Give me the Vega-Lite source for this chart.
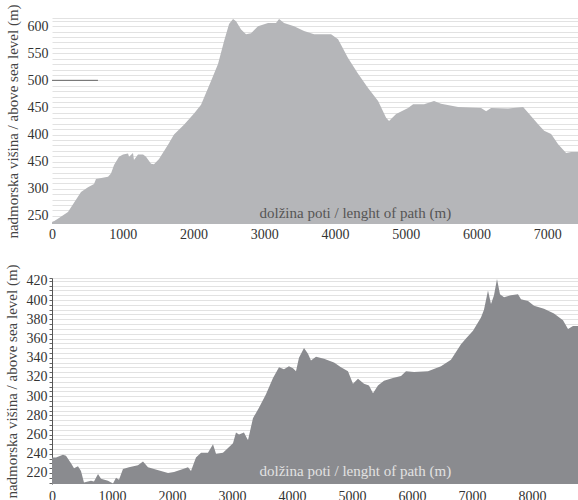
{
  "$schema": "https://vega.github.io/schema/vega-lite/v6.json",
  "background": "white",
  "padding": {"left": 3, "top": 3, "right": 0, "bottom": 0},
  "spacing": 54,
  "bounds": "flush",
  "config": {
    "font": "Liberation Serif, DejaVu Serif, serif",
    "view": {"stroke": null},
    "axis": {
      "labelFont": "Liberation Serif, DejaVu Serif, serif",
      "titleFont": "Liberation Serif, DejaVu Serif, serif",
      "labelFontSize": 14,
      "titleFontSize": 15,
      "titleFontWeight": "normal",
      "labelColor": "#333333",
      "titleColor": "#444444",
      "labelOverlap": false,
      "labelFlush": false,
      "gridColor": "#dadada",
      "gridWidth": 0.8
    }
  },
  "datasets": {
    "top": [
      {"d":0,"e":238},{"d":28,"e":240},{"d":99,"e":246},{"d":226,"e":257},{"d":410,"e":294},{"d":509,"e":303},{"d":594,"e":309},{"d":622,"e":318},{"d":792,"e":322},{"d":834,"e":328},{"d":877,"e":344},{"d":947,"e":359},{"d":1004,"e":363},{"d":1075,"e":365},{"d":1089,"e":359},{"d":1145,"e":366},{"d":1159,"e":353},{"d":1216,"e":363},{"d":1287,"e":363},{"d":1329,"e":359},{"d":1400,"e":346},{"d":1442,"e":345},{"d":1513,"e":355},{"d":1640,"e":381},{"d":1725,"e":400},{"d":1866,"e":418},{"d":2008,"e":439},{"d":2107,"e":455},{"d":2248,"e":499},{"d":2347,"e":530},{"d":2432,"e":572},{"d":2503,"e":604},{"d":2559,"e":613},{"d":2602,"e":609},{"d":2673,"e":594},{"d":2743,"e":585},{"d":2814,"e":587},{"d":2913,"e":600},{"d":3054,"e":606},{"d":3167,"e":606},{"d":3210,"e":613},{"d":3280,"e":606},{"d":3422,"e":600},{"d":3563,"e":591},{"d":3705,"e":585},{"d":3945,"e":585},{"d":4044,"e":576},{"d":4185,"e":541},{"d":4327,"e":512},{"d":4468,"e":486},{"d":4610,"e":462},{"d":4723,"e":431},{"d":4765,"e":425},{"d":4864,"e":438},{"d":5034,"e":449},{"d":5105,"e":456},{"d":5260,"e":456},{"d":5401,"e":462},{"d":5500,"e":457},{"d":5741,"e":451},{"d":6066,"e":449},{"d":6137,"e":443},{"d":6207,"e":449},{"d":6448,"e":448},{"d":6660,"e":451},{"d":6731,"e":440},{"d":6872,"e":419},{"d":6957,"e":407},{"d":7056,"e":401},{"d":7155,"e":382},{"d":7268,"e":366},{"d":7339,"e":368},{"d":7452,"e":368}
    ],
    "bottom": [
      {"d":0,"e":236},{"d":67,"e":236},{"d":183,"e":239},{"d":233,"e":238},{"d":317,"e":230},{"d":367,"e":225},{"d":433,"e":227},{"d":483,"e":222},{"d":533,"e":210},{"d":600,"e":211},{"d":650,"e":212},{"d":700,"e":211},{"d":767,"e":219},{"d":817,"e":214},{"d":933,"e":212},{"d":1017,"e":209},{"d":1067,"e":215},{"d":1117,"e":213},{"d":1183,"e":224},{"d":1283,"e":226},{"d":1433,"e":228},{"d":1517,"e":232},{"d":1600,"e":226},{"d":1700,"e":224},{"d":1817,"e":222},{"d":1934,"e":220},{"d":2034,"e":221},{"d":2184,"e":224},{"d":2267,"e":226},{"d":2317,"e":222},{"d":2400,"e":236},{"d":2484,"e":241},{"d":2600,"e":241},{"d":2684,"e":250},{"d":2734,"e":240},{"d":2850,"e":241},{"d":2934,"e":246},{"d":3017,"e":251},{"d":3067,"e":262},{"d":3117,"e":260},{"d":3200,"e":262},{"d":3267,"e":254},{"d":3350,"e":277},{"d":3450,"e":288},{"d":3567,"e":302},{"d":3684,"e":319},{"d":3784,"e":330},{"d":3867,"e":328},{"d":3950,"e":331},{"d":4017,"e":329},{"d":4067,"e":326},{"d":4117,"e":340},{"d":4201,"e":350},{"d":4267,"e":344},{"d":4317,"e":337},{"d":4401,"e":341},{"d":4534,"e":339},{"d":4701,"e":335},{"d":4817,"e":330},{"d":4934,"e":326},{"d":5017,"e":313},{"d":5101,"e":318},{"d":5201,"e":313},{"d":5284,"e":311},{"d":5351,"e":303},{"d":5434,"e":311},{"d":5534,"e":316},{"d":5684,"e":319},{"d":5818,"e":321},{"d":5901,"e":326},{"d":6035,"e":325},{"d":6268,"e":326},{"d":6485,"e":331},{"d":6651,"e":338},{"d":6818,"e":354},{"d":6901,"e":360},{"d":7018,"e":368},{"d":7151,"e":382},{"d":7201,"e":390},{"d":7268,"e":410},{"d":7318,"e":396},{"d":7368,"e":405},{"d":7418,"e":422},{"d":7468,"e":406},{"d":7535,"e":403},{"d":7651,"e":405},{"d":7768,"e":406},{"d":7818,"e":401},{"d":7935,"e":399},{"d":8035,"e":394},{"d":8201,"e":391},{"d":8368,"e":386},{"d":8518,"e":379},{"d":8602,"e":370},{"d":8685,"e":373},{"d":8785,"e":373}
    ],
    "mark500": [{"d":0,"d2":650,"e":500}]
  },
  "vconcat": [
    {
      "width": 527,
      "height": 206,
      "encoding": {
        "x": {
          "field": "d", "type": "quantitative",
          "scale": {"domain": [0, 7450], "nice": false, "zero": false},
          "axis": {
            "values": [0,1000,2000,3000,4000,5000,6000,7000],
            "format": "d",
            "grid": false, "domain": false, "ticks": false, "labelPadding": 3, "zindex": 1,
            "title": "dolžina poti / lenght of path (m)",
            "titleX": 207, "titleY": -12, "titleAlign": "left", "titleBaseline": "middle",
            "titleColor": "#555555"
          }
        },
        "y": {
          "field": "e", "type": "quantitative",
          "scale": {"domain": [235, 615], "nice": false, "zero": false},
          "axis": {
            "values": [240,250,260,270,280,290,300,310,320,330,340,350,360,370,380,390,400,410,420,430,440,450,460,470,480,490,500,510,520,530,540,550,560,570,580,590,600,610,615],
            "format": "d",
            "labelExpr": "datum.value % 50 == 0 ? (datum.value == 350 ? '450' : datum.label) : ''",
            "domain": false, "ticks": false, "labelPadding": 4, "titlePadding": 7,
            "title": "nadmorska višina / above sea level (m)"
          }
        }
      },
      "layer": [
        {
          "data": {"name": "top"},
          "mark": {"type": "area", "color": "#b5b6b9", "clip": true}
        },
        {
          "data": {"name": "mark500"},
          "mark": {"type": "rule", "color": "#666666", "strokeWidth": 1},
          "encoding": {
            "x2": {"field": "d2"}
          }
        }
      ]
    },
    {
      "width": 527,
      "height": 206,
      "data": {"name": "bottom"},
      "mark": {"type": "area", "color": "#8a8b8f", "clip": true},
      "encoding": {
        "x": {
          "field": "d", "type": "quantitative",
          "scale": {"domain": [0, 8785], "nice": false, "zero": false},
          "axis": {
            "values": [0,1000,2000,3000,4000,5000,6000,7000,8000],
            "format": "d",
            "grid": false, "domain": false, "ticks": false, "labelPadding": 5, "zindex": 1,
            "title": "dolžina poti / lenght of path (m)",
            "titleX": 207, "titleY": -14, "titleAlign": "left", "titleBaseline": "middle",
            "titleColor": "#e2e2e2"
          }
        },
        "y": {
          "field": "e", "type": "quantitative",
          "scale": {"domain": [208.5, 423], "nice": false, "zero": false},
          "axis": {
            "values": [210,215,220,225,230,235,240,245,250,255,260,265,270,275,280,285,290,295,300,305,310,315,320,325,330,335,340,345,350,355,360,365,370,375,380,385,390,395,400,405,410,415,420,423],
            "format": "d",
            "labelExpr": "datum.value % 20 == 0 ? datum.label : ''",
            "domain": true, "domainColor": "#555555", "ticks": true, "tickSize": 3, "tickColor": "#666666",
            "labelPadding": 2, "titlePadding": 7,
            "title": "nadmorska višina / above sea level (m)"
          }
        }
      }
    }
  ]
}
